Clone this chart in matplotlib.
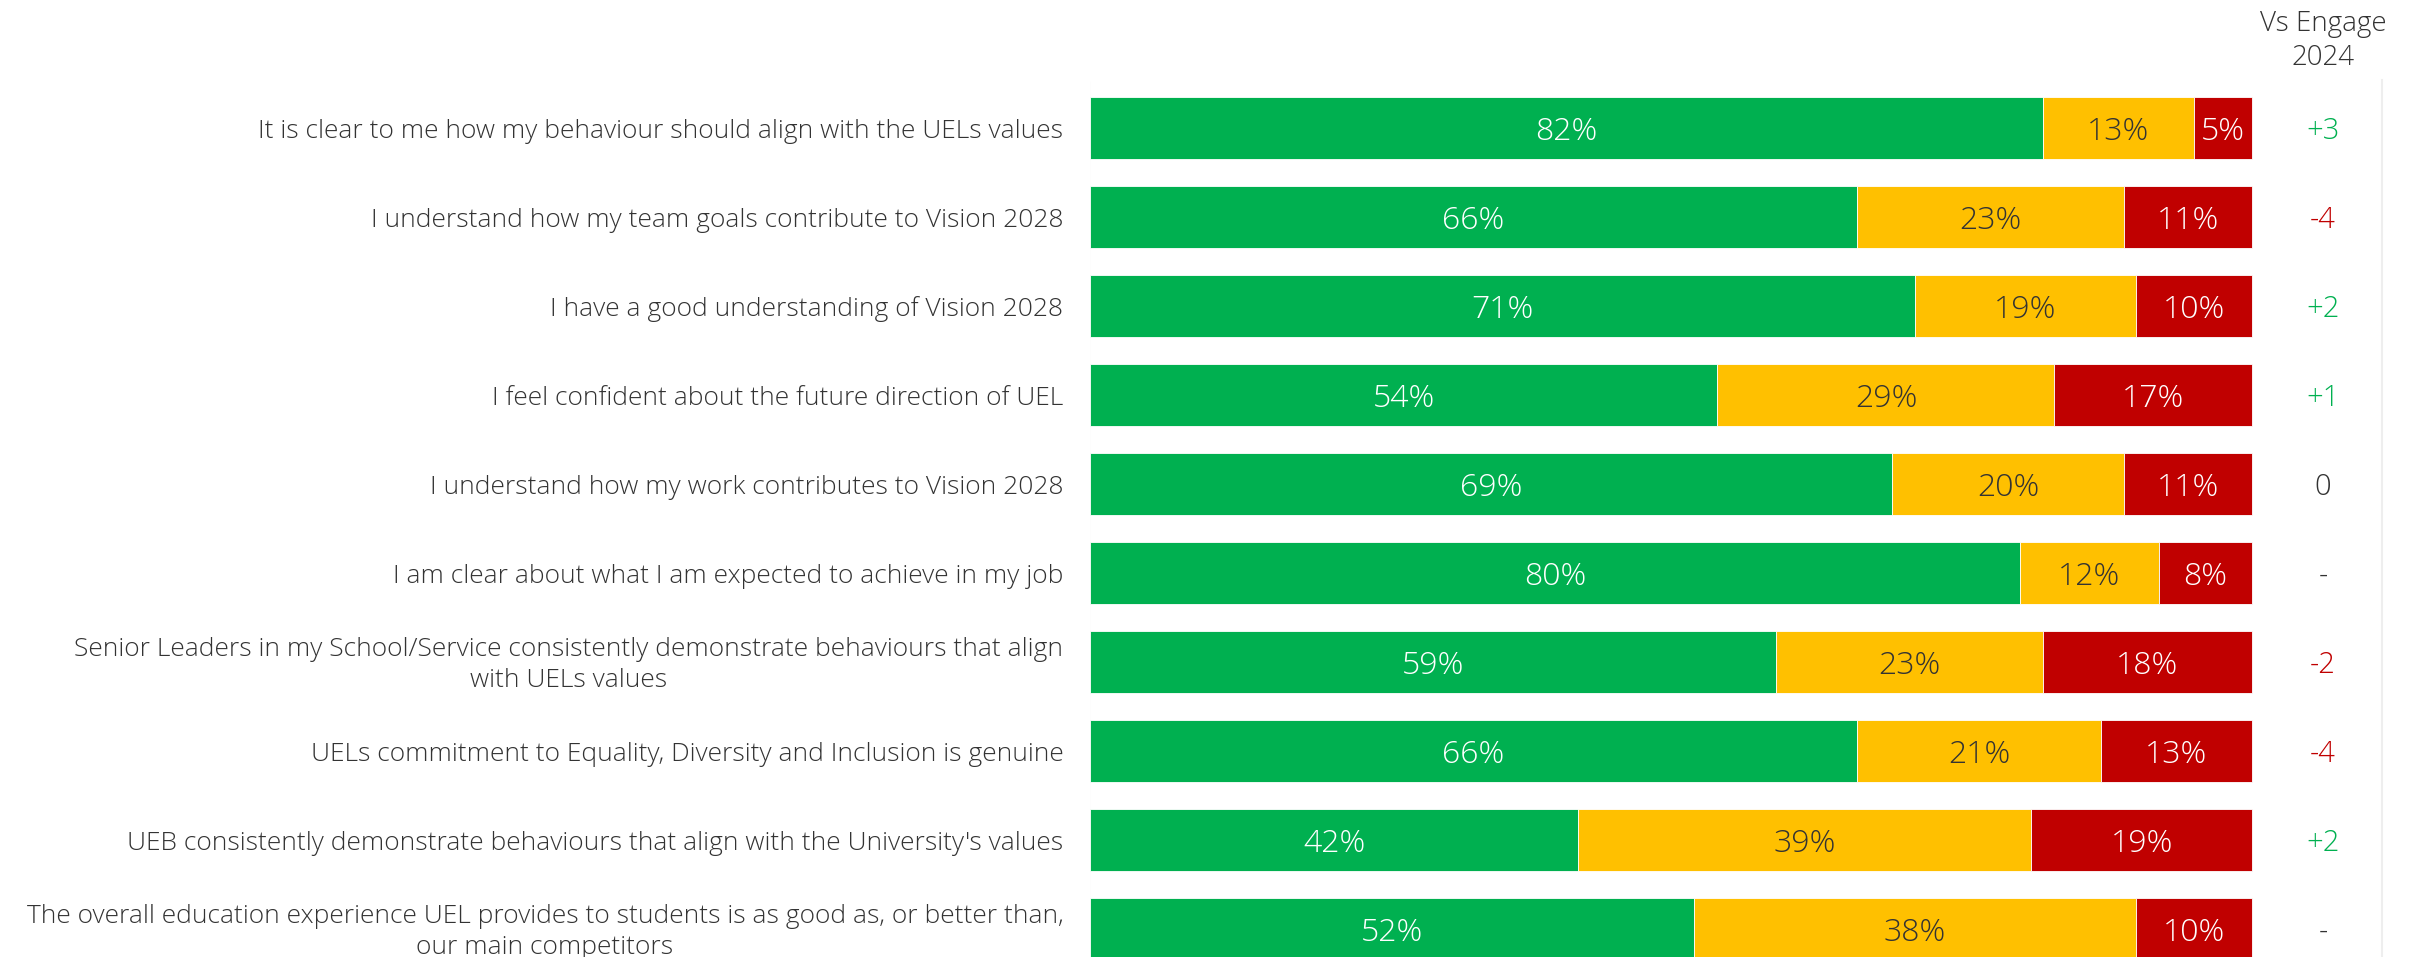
import matplotlib
matplotlib.use("Agg")
import matplotlib.pyplot as plt

# ---------- data ----------
questions = [
    "It is clear to me how my behaviour should align with the UELs values",
    "I understand how my team goals contribute to Vision 2028",
    "I have a good understanding of Vision 2028",
    "I feel confident about the future direction of UEL",
    "I understand how my work contributes to Vision 2028",
    "I am clear about what I am expected to achieve in my job",
    "Senior Leaders in my School/Service consistently demonstrate behaviours that align\nwith UELs values",
    "UELs commitment to Equality, Diversity and Inclusion is genuine",
    "UEB consistently demonstrate behaviours that align with the University's values",
    "The overall education experience UEL provides to students is as good as, or better than,\nour main competitors",
]
positive = [82, 66, 71, 54, 69, 80, 59, 66, 42, 52]
neutral  = [13, 23, 19, 29, 20, 12, 23, 21, 39, 38]
negative = [5, 11, 10, 17, 11, 8, 18, 13, 19, 10]
vs_2024  = ["+3", "-4", "+2", "+1", "0", "-", "-2", "-4", "+2", "-"]

GREEN, YELLOW, RED = "#00B050", "#FFC000", "#C00000"
DARK = "#333333"

plt.rcParams["font.family"] = ["Open Sans", "DejaVu Sans"]
plt.rcParams["font.weight"] = "light"

W, H = 2422, 957
fig = plt.figure(figsize=(W / 100, H / 100), dpi=100)

# axes: x 0..100 spans px 1090..2252, rows spaced 89 px starting at 128 px
x0_px, px_per = 1090, 11.62
ax = fig.add_axes([x0_px / W, 0, 1 - x0_px / W, 1])
ax.set_xlim(0, (W - x0_px) / px_per)
ax.set_ylim((H - 128) / 89, -128 / 89)
ax.axis("off")

rows = list(range(len(questions)))
h = 0.70
ax.barh(rows, positive, height=h, color=GREEN, edgecolor="#ffffff", linewidth=0.6)
ax.barh(rows, neutral, left=positive, height=h, color=YELLOW, edgecolor="#ffffff", linewidth=0.6)
lefts = [p + n for p, n in zip(positive, neutral)]
ax.barh(rows, negative, left=lefts, height=h, color=RED, edgecolor="#ffffff", linewidth=0.6)

for i in rows:
    ax.text(positive[i] / 2, i, f"{positive[i]}%", ha="center", va="center_baseline",
            color="white", fontsize=23)
    ax.text(positive[i] + neutral[i] / 2, i, f"{neutral[i]}%", ha="center",
            va="center_baseline", color=DARK, fontsize=23)
    ax.text(lefts[i] + negative[i] / 2, i, f"{negative[i]}%", ha="center",
            va="center_baseline", color="white", fontsize=23)
    ax.text(-2.3, i + 0.035, questions[i], ha="right", va="center", multialignment="center",
            color=DARK, fontsize=19, linespacing=1.3)
    d = vs_2024[i]
    c = GREEN if d.startswith("+") else (RED if d.startswith("-") and len(d) > 1 else DARK)
    ax.text(106.1, i, d, ha="center", va="center_baseline", color=c, fontsize=21)

# header for change column
ax.text(106.1, -0.98, "Vs Engage\n2024", ha="center", va="center", color=DARK,
        fontsize=20, linespacing=1.3)

# thin separators
ax.plot([-0.1, -0.1], [-0.506, 10], color="#d9d9d9", lw=1.5, zorder=0)
ax.plot([111.2, 111.2], [-0.54, 10], color="#eeeeee", lw=1.5, zorder=0)

fig.savefig("out.png", dpi=100)
